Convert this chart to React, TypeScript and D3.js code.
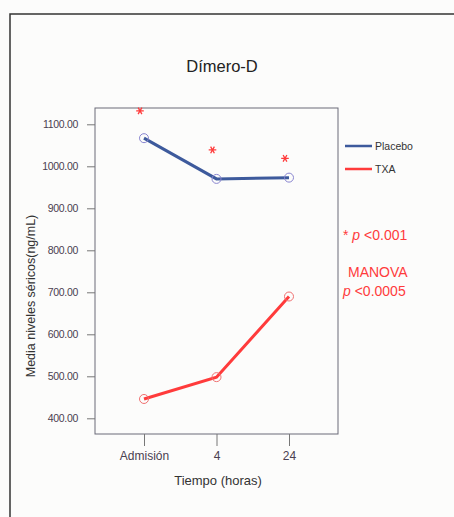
import React, { useRef, useEffect } from "react";
import * as d3 from "d3";

// categories and values
const tiempos = ["Admisión", "4", "24"];
const placebo = [1067, 970, 973];
const txa = [446, 498, 690];
const asteriscos = [1132, 1039, 1019];
const yTicks = [400, 500, 600, 700, 800, 900, 1000, 1100];

const App = () => {
  const svgRef = useRef<SVGSVGElement>(null);

  useEffect(() => {
    const svg = d3.select(svgRef.current);
    svg.selectAll("*").remove();

    const font = "'Liberation Sans', Arial, sans-serif";
    const box = { left: 95, top: 108, right: 338, bottom: 434 };

    svg.append("rect").attr("width", 454).attr("height", 517).attr("fill", "#fcfcfb");

    // outer frame
    svg
      .append("path")
      .attr("d", "M454,14 H10 V517")
      .attr("fill", "none")
      .attr("stroke", "#333")
      .attr("stroke-width", 1.5);

    svg
      .append("text")
      .attr("x", 222)
      .attr("y", 72)
      .attr("text-anchor", "middle")
      .attr("font-family", font)
      .attr("font-size", 16.5)
      .attr("fill", "#222")
      .text("Dímero-D");

    const x = d3.scalePoint().domain(tiempos).range([144, 289]);
    const y = d3.scaleLinear().domain([400, 1100]).range([418.3, 124.3]);

    // plot box
    svg
      .append("rect")
      .attr("x", box.left)
      .attr("y", box.top)
      .attr("width", box.right - box.left)
      .attr("height", box.bottom - box.top)
      .attr("fill", "none")
      .attr("stroke", "#6a6a78")
      .attr("stroke-width", 1);

    // y axis
    const gy = svg.append("g").attr("transform", `translate(${box.left},0)`);
    gy.call(
      d3.axisLeft(y).tickValues(yTicks).tickSize(8).tickSizeOuter(0).tickFormat(d3.format(".2f"))
    );
    gy.select(".domain").remove();
    gy.selectAll("line").attr("stroke", "#777");
    gy.selectAll("text")
      .attr("font-family", font)
      .attr("font-size", 10.5)
      .attr("letter-spacing", -0.3)
      .attr("fill", "#4a4050")
      .attr("x", -17);

    // x axis
    const gx = svg.append("g").attr("transform", `translate(0,${box.bottom})`);
    gx.call(d3.axisBottom(x).tickSize(12).tickSizeOuter(0));
    gx.select(".domain").remove();
    gx.selectAll("line").attr("stroke", "#777");
    gx.selectAll("text")
      .attr("font-family", font)
      .attr("font-size", 12)
      .attr("fill", "#4a4050")
      .attr("dy", null)
      .attr("y", 26);

    svg
      .append("text")
      .attr("x", 218)
      .attr("y", 485)
      .attr("text-anchor", "middle")
      .attr("font-family", font)
      .attr("font-size", 13)
      .attr("fill", "#333")
      .text("Tiempo (horas)");

    svg
      .append("text")
      .attr("transform", "translate(35,296) rotate(-90)")
      .attr("text-anchor", "middle")
      .attr("font-family", font)
      .attr("font-size", 12.5)
      .attr("fill", "#333")
      .text("Media niveles séricos(ng/mL)");

    const line = d3
      .line<number>()
      .x((d, i) => x(tiempos[i]) as number)
      .y((d) => y(d));

    const series = [
      { name: "Placebo", values: placebo, color: "#3d5a9c", marker: "#8a86d0" },
      { name: "TXA", values: txa, color: "#ff3b3b", marker: "#f07070" },
    ];

    series.forEach((s) => {
      svg
        .append("path")
        .datum(s.values)
        .attr("d", line)
        .attr("fill", "none")
        .attr("stroke", s.color)
        .attr("stroke-width", 3);
      svg
        .selectAll(null)
        .data(s.values)
        .enter()
        .append("circle")
        .attr("cx", (d, i) => x(tiempos[i]) as number)
        .attr("cy", (d) => y(d))
        .attr("r", 4.5)
        .attr("fill", "none")
        .attr("stroke", s.marker)
        .attr("stroke-width", 1);
    });

    // significance asterisks
    const star = d3.symbol(d3.symbolAsterisk, 40);
    svg
      .selectAll(null)
      .data(asteriscos)
      .enter()
      .append("path")
      .attr("d", star)
      .attr(
        "transform",
        (d, i) => `translate(${(x(tiempos[i]) as number) - 4},${y(d)}) rotate(90)`
      )
      .attr("fill", "none")
      .attr("stroke", "#ff3b3b")
      .attr("stroke-width", 1.3);

    // legend
    series.forEach((s, i) => {
      const ly = 146 + i * 23;
      svg
        .append("line")
        .attr("x1", 345)
        .attr("x2", 372)
        .attr("y1", ly)
        .attr("y2", ly)
        .attr("stroke", s.color)
        .attr("stroke-width", 2.5);
      svg
        .append("text")
        .attr("x", 375)
        .attr("y", ly + 4)
        .attr("font-family", font)
        .attr("font-size", 10.5)
        .attr("fill", "#333")
        .text(s.name);
    });

    const notes = svg
      .append("g")
      .attr("font-family", font)
      .attr("font-size", 14)
      .attr("fill", "#ff3b3b");
    const n1 = notes.append("text").attr("x", 343).attr("y", 240);
    n1.append("tspan").text("* ");
    n1.append("tspan").attr("font-style", "italic").text("p");
    n1.append("tspan").text(" <0.001");
    notes.append("text").attr("x", 348).attr("y", 277).text("MANOVA");
    const n2 = notes.append("text").attr("x", 343).attr("y", 296);
    n2.append("tspan").attr("font-style", "italic").text("p");
    n2.append("tspan").text(" <0.0005");
  }, []);

  return (
    <svg
      ref={svgRef}
      width={454}
      height={517}
      style={{ position: "absolute", left: 0, top: 0 }}
    ></svg>
  );
};

export default App;
